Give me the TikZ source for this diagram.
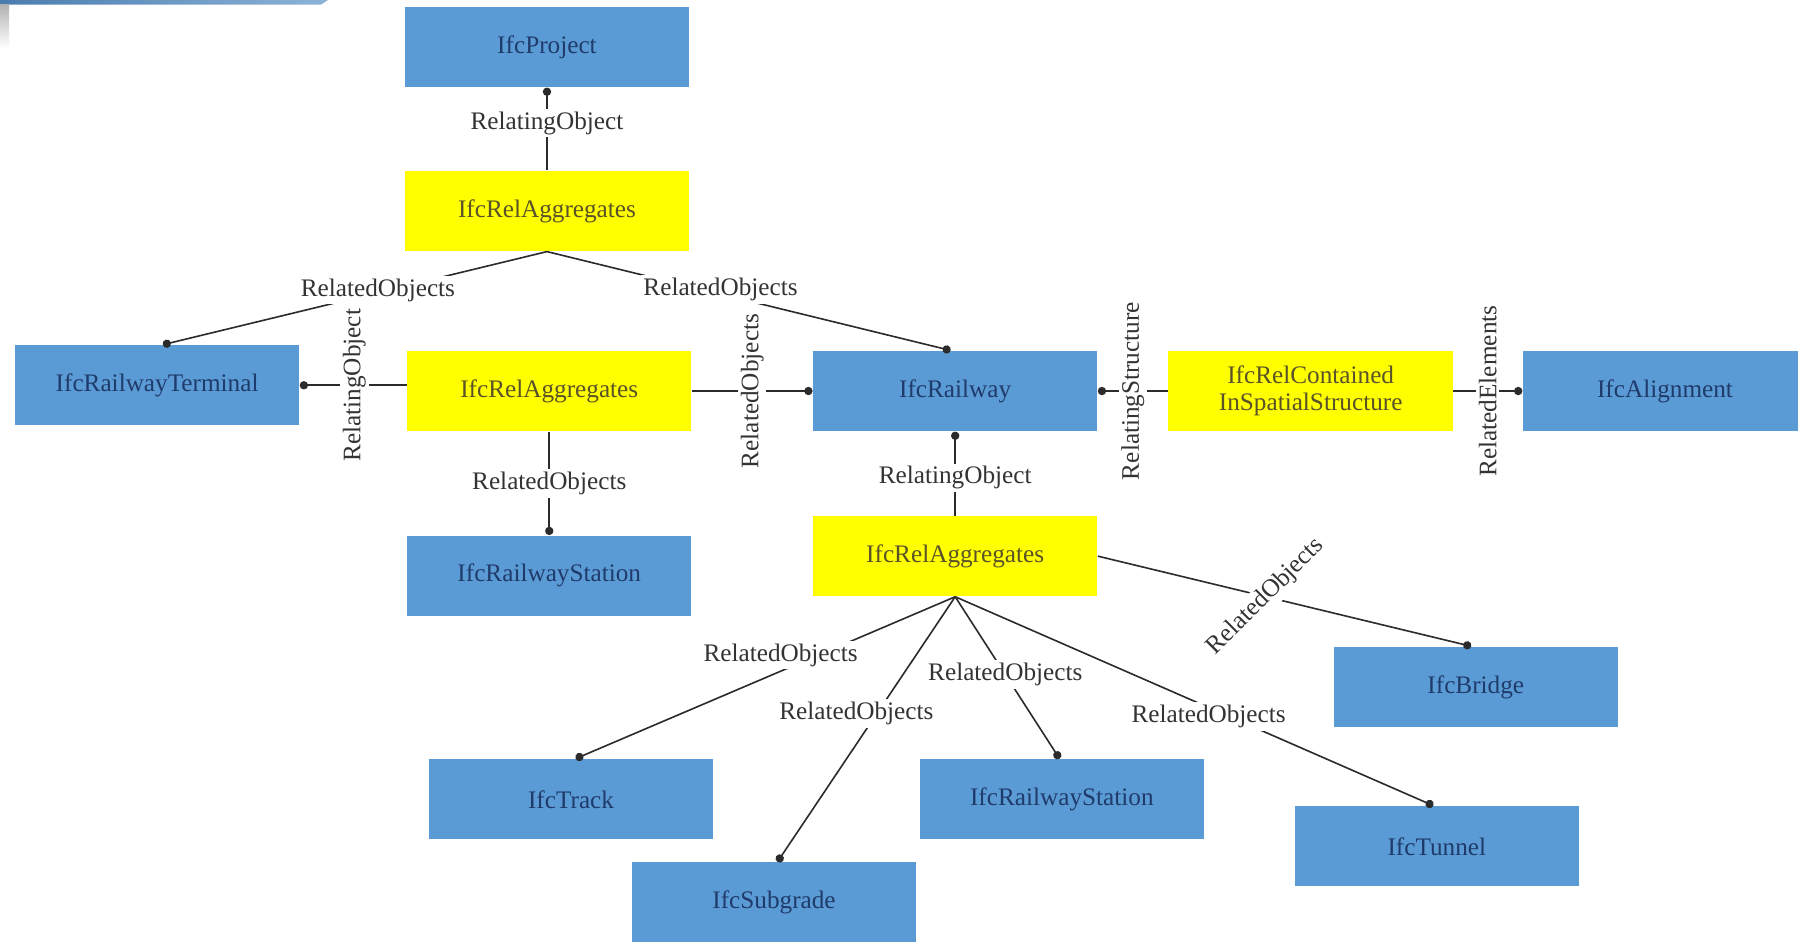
\documentclass[tikz,border=0pt]{standalone}
\usepackage{fontspec}
\setmainfont{Liberation Serif}
\usetikzlibrary{arrows.meta}
\definecolor{entblue}{HTML}{5B9BD5}
\definecolor{entink}{HTML}{1F3B6B}
\definecolor{relyellow}{HTML}{FFFF00}
\definecolor{relink}{HTML}{5A5228}
\definecolor{lblink}{HTML}{333333}
\definecolor{linkgray}{HTML}{2B2B2B}
\definecolor{bandL}{HTML}{4A7DAE}
\definecolor{bandR}{HTML}{8DB3D8}
\begin{document}
\begin{tikzpicture}[x=0.5pt,y=-0.5pt,
  box/.style={minimum width=124pt, minimum height=35pt, inner sep=0pt,
              font=\fontsize{11}{13}\selectfont, align=center},
  ent/.style={box, fill=entblue, text=entink},
  rel/.style={box, fill=relyellow, text=relink},
  lbl/.style={fill=white, inner sep=1.2pt, text=lblink,
              font=\fontsize{11}{13}\selectfont},
  link/.style={draw=linkgray, line width=0.7pt,
               -{Circle[length=3.6pt,width=3.6pt]}}
]
% page frame and clipping
\useasboundingbox (0,0) rectangle (1568,821);
\clip (0,0) rectangle (1568,821);
\fill[white] (0,0) rectangle (1568,821);

% header band in the upper left corner
\shade[left color=bandL, right color=bandR] (0,0) -- (286,0) -- (280,4) -- (0,4) -- cycle;
\shade[top color=black!30, bottom color=white] (0,4) rectangle (8,42);

% entities
\node[ent] (proj)   at (477,41)  {IfcProject};
\node[ent] (term)   at (137,336) {IfcRailwayTerminal};
\node[ent] (stn1)   at (479,502) {IfcRailwayStation};
\node[ent] (rail)   at (833,341) {IfcRailway};
\node[ent] (align)  at (1452,341) {IfcAlignment};
\node[ent] (bridge) at (1287,599) {IfcBridge};
\node[ent] (track)  at (498,697) {IfcTrack};
\node[ent] (stn2)   at (926,697) {IfcRailwayStation};
\node[ent] (tunnel) at (1253,738) {IfcTunnel};
\node[ent] (subg)   at (675,787) {IfcSubgrade};

% relationships
\node[rel] (agg1) at (477,184) {IfcRelAggregates};
\node[rel] (agg2) at (479,341) {IfcRelAggregates};
\node[rel] (agg3) at (833,485) {IfcRelAggregates};
\node[rel] (cont) at (1143,341) {IfcRelContained\\[-1pt]InSpatialStructure};

% connectors
\draw[link] (agg1.north) -- node[lbl, pos=0.57] {RelatingObject} (proj.south);
\draw[link] (agg1.south) -- node[lbl, pos=0.44, yshift=1pt] {RelatedObjects} ([xshift=2.5pt]term.north);
\draw[link] (agg1.south) -- node[lbl, pos=0.43, yshift=2pt] {RelatedObjects} ([xshift=-2pt]rail.north);

\draw[link] (term.east -| agg2.west) -- node[lbl, rotate=90, yshift=-0.5pt] {RelatingObject} (term.east);
\draw[link] (agg2.east) -- node[lbl, rotate=90] {RelatedObjects} (rail.west);
\draw[link] (agg2.south) -- node[lbl] {RelatedObjects} (stn1.north);

\draw[link] (agg3.north) -- node[lbl, pos=0.45] {RelatingObject} (rail.south);
\draw[link] (cont.west) -- node[lbl, rotate=90] {RelatingStructure} (rail.east);
\draw[link] (cont.east) -- node[lbl, rotate=90] {RelatedElements} (align.west);

\draw[link] (agg3.south) -- node[lbl, pos=0.46, yshift=7pt] {RelatedObjects} ([xshift=2pt]track.north);
\draw[link] (agg3.south) -- node[lbl, pos=0.44, xshift=-9pt] {RelatedObjects} ([xshift=1.5pt]subg.north);
\draw[link] (agg3.south) -- node[lbl, pos=0.48] {RelatedObjects} ([xshift=-1pt]stn2.north);
\draw[link] (agg3.south) -- node[lbl, pos=0.53, yshift=-4pt] {RelatedObjects} ([xshift=-1.5pt]tunnel.north);
\draw[link] (agg3.east) -- node[lbl, pos=0.45, rotate=45] {RelatedObjects} ([xshift=-2pt]bridge.north);
\end{tikzpicture}
\end{document}
